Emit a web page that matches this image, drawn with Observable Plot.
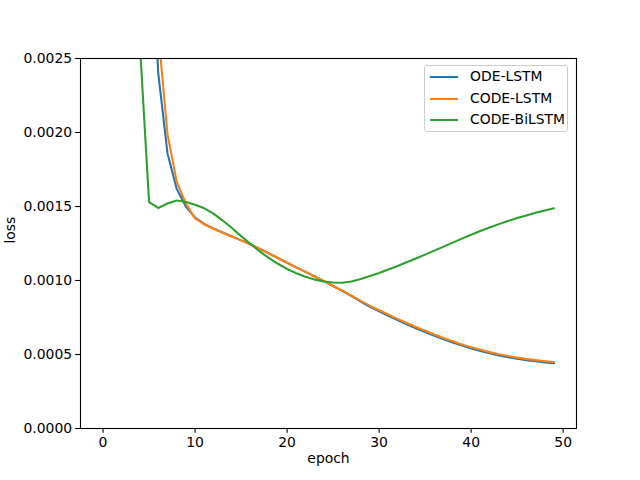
<!DOCTYPE html>
<html>
<head>
<meta charset="utf-8">
<script src="https://cdn.jsdelivr.net/npm/d3@7"></script>
<script src="https://cdn.jsdelivr.net/npm/@observablehq/plot@0.6"></script>
<style>
  html, body { margin: 0; padding: 0; background: white; overflow: hidden; }
  #wrap { position: relative; width: 640px; height: 480px; font-family: "DejaVu Sans", sans-serif; color: black; }
  #legend { position: absolute; left: 424px; top: 65px; width: 144px; height: 67px; box-sizing: border-box;
            border: 1px solid #cccccc; border-radius: 3px; background: rgba(255,255,255,0.8); }
  .item { position: absolute; left: 0; height: 20px; font-size: 13.9px; }
  .item .sw { position: absolute; left: 5px; width: 28px; height: 2px; top: 9px; }
  .item .lb { position: absolute; left: 45px; top: 1px; white-space: nowrap; }
</style>
</head>
<body>
<div id="wrap"></div>
<script>
const epochs = d3.range(0, 50);
const seriesNames = ["ODE-LSTM", "CODE-LSTM", "CODE-BiLSTM"];
const seriesColors = ["#1f77b4", "#ff7f0e", "#2ca02c"];

const odeLstm = [
  0.0120, 0.0090, 0.0070, 0.0055, 0.0045, 0.0036, 0.00240, 0.00186, 0.00162, 0.00150,
  0.001425, 0.001382, 0.001352, 0.001324, 0.001297, 0.001271, 0.001245, 0.001215, 0.001184, 0.001152,
  0.001120, 0.001089, 0.001058, 0.001027, 0.000996, 0.000963, 0.000930, 0.000895, 0.000858, 0.000822,
  0.000792, 0.000762, 0.000733, 0.000704, 0.000677, 0.000651, 0.000626, 0.000603, 0.000581, 0.000560,
  0.000541, 0.000524, 0.000508, 0.000494, 0.000482, 0.000471, 0.000462, 0.000454, 0.000447, 0.000441
];
const codeLstm = [
  0.0130, 0.0100, 0.0080, 0.0065, 0.0054, 0.0045, 0.00268, 0.00199, 0.00167, 0.00152,
  0.001420, 0.001380, 0.001350, 0.001323, 0.001297, 0.001271, 0.001245, 0.001215, 0.001184, 0.001152,
  0.001120, 0.001089, 0.001058, 0.001027, 0.000996, 0.000963, 0.000931, 0.000897, 0.000862, 0.000828,
  0.000799, 0.000770, 0.000741, 0.000713, 0.000686, 0.000660, 0.000635, 0.000611, 0.000589, 0.000568,
  0.000549, 0.000532, 0.000516, 0.000502, 0.000490, 0.000479, 0.000470, 0.000462, 0.000455, 0.000449
];
const codeBiLstm = [
  0.0080, 0.0060, 0.0045, 0.0035, 0.00260, 0.00153, 0.00149, 0.00152, 0.00154, 0.00153,
  0.001512, 0.001488, 0.001452, 0.001405, 0.001355, 0.001300, 0.001248, 0.001198, 0.001153, 0.001113,
  0.001078, 0.001049, 0.001025, 0.001006, 0.000993, 0.000986, 0.000985, 0.000993, 0.001010, 0.001030,
  0.001051, 0.001074, 0.001098, 0.001123, 0.001149, 0.001175, 0.001202, 0.001229, 0.001256, 0.001283,
  0.001309, 0.001334, 0.001358, 0.001381, 0.001402, 0.001422, 0.001440, 0.001457, 0.001473, 0.001488
];
const xTicks = [0, 10, 20, 30, 40, 50];
const yTicks = [0, 0.0005, 0.0010, 0.0015, 0.0020, 0.0025];

const allSeries = [odeLstm, codeLstm, codeBiLstm];
const rows = [];
allSeries.forEach((vals, si) => {
  epochs.forEach((e, i) => rows.push({epoch: e, loss: vals[i], series: seriesNames[si]}));
});

const fs = 13.9;
const chart = Plot.plot({
  width: 640,
  height: 480,
  marginLeft: 80,
  marginRight: 64,
  marginTop: 58,
  marginBottom: 52,
  style: {fontFamily: "DejaVu Sans", fontSize: fs + "px", background: "white", color: "black"},
  x: {domain: [-2.45, 51.45]},
  y: {domain: [0, 0.0025]},
  color: {domain: seriesNames, range: seriesColors},
  marks: [
    Plot.line(rows, {x: "epoch", y: "loss", stroke: "series", z: "series", strokeWidth: 2.08, clip: true}),
    Plot.frame({stroke: "black", strokeWidth: 1.1}),
    Plot.axisX({ticks: xTicks, tickSize: 4.86, tickPadding: 3.5, label: null, fontSize: fs, strokeWidth: 1.1}),
    Plot.axisY({ticks: yTicks, tickSize: 4.86, tickPadding: 3.5, label: null, fontSize: fs, strokeWidth: 1.1,
                tickFormat: d => d.toFixed(4)}),
    Plot.text(["epoch"], {text: d => d, frameAnchor: "bottom", dy: 34, fontSize: fs, fill: "black"}),
    Plot.text(["loss"], {text: d => d, frameAnchor: "left", dx: -70, rotate: -90, fontSize: fs, fill: "black"})
  ]
});

const wrap = document.getElementById("wrap");
wrap.appendChild(chart);

const legend = document.createElement("div");
legend.id = "legend";
seriesNames.forEach((name, i) => {
  const it = document.createElement("div");
  it.className = "item";
  it.style.top = (1 + i * 21.7) + "px";
  const sw = document.createElement("div");
  sw.className = "sw";
  sw.style.background = seriesColors[i];
  const lb = document.createElement("div");
  lb.className = "lb";
  lb.textContent = name;
  it.appendChild(sw);
  it.appendChild(lb);
  legend.appendChild(it);
});
wrap.appendChild(legend);
</script>
</body>
</html>
